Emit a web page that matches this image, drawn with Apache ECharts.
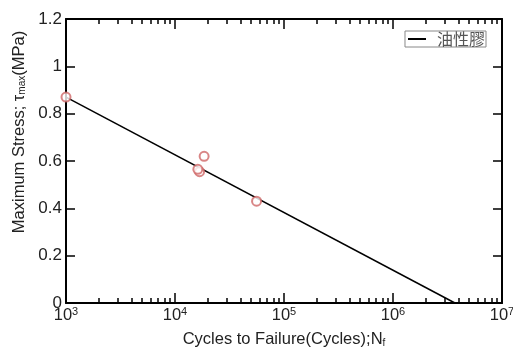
<!DOCTYPE html>
<html>
<head>
<meta charset="utf-8">
<script src="https://cdn.jsdelivr.net/npm/echarts@6/dist/echarts.min.js"></script>
<style>
  html, body { margin: 0; padding: 0; background: #fff; }
  #chart { width: 513px; height: 350px; }
</style>
</head>
<body>
<div id="chart"></div>
<script>
    // measured points: cycles to failure vs max stress
    var cycles = [1000, 18500, 16800, 16200, 56000];
    var stress = [0.87, 0.62, 0.555, 0.565, 0.43];
    // fitted line end points
    var fitCycles = [1000, 3700000];
    var fitStress = [0.87, 0];
    var majorTicks = [1e3, 1e4, 1e5, 1e6, 1e7];
    var minorTicks = [];
    for (var d = 3; d < 7; d++) {
        for (var m = 2; m <= 9; m++) {
            minorTicks.push(m * Math.pow(10, d));
        }
    }
    var legendName = '油性膠';

    var font = 'Liberation Sans, Arial, sans-serif';
    var chart = echarts.init(document.getElementById('chart'));

    function genData(xs, ys) {
        var data = [];
        for (var i = 0; i < xs.length; i++) {
            data.push([xs[i], ys[i]]);
        }
        return data;
    }

    function xAxisCfg(pos, ticks, len, main) {
        return {
            type: 'log',
            logBase: 10,
            min: 1e3,
            max: 1e7,
            position: pos,
            gridIndex: 0,
            axisLine: {show: main, onZero: false, lineStyle: {color: '#000', width: 2}},
            axisTick: {show: true, inside: true, length: len, customValues: ticks,
                lineStyle: {color: '#000', width: 1.5}},
            splitLine: {show: false},
            axisLabel: {
                show: main && pos === 'bottom',
                customValues: majorTicks,
                margin: 3,
                formatter: function (v) {
                    return '{b|10}{s|' + Math.round(Math.log10(v)) + '}';
                },
                rich: {
                    b: {fontSize: 16.5, fontFamily: font, color: '#222'},
                    s: {fontSize: 11, fontFamily: font, color: '#222', verticalAlign: 'top', padding: [0, 0, 7, 0]}
                }
            },
            name: main && pos === 'bottom' ? '{t|Cycles to Failure(Cycles);N}{sub|f}' : '',
            nameLocation: 'middle',
            nameGap: 28,
            nameTextStyle: {
                rich: {
                    t: {fontSize: 16.5, fontFamily: font, color: '#222'},
                    sub: {fontSize: 10, fontFamily: font, color: '#222', verticalAlign: 'bottom', padding: [7, 0, 0, 0]}
                }
            }
        };
    }

    function yAxisCfg(pos, main) {
        return {
            type: 'value',
            min: 0,
            max: 1.2,
            interval: 0.2,
            position: pos,
            axisLine: {show: true, onZero: false, lineStyle: {color: '#000', width: 2}},
            axisTick: {show: true, inside: true, length: 9, lineStyle: {color: '#000', width: 1.5}},
            splitLine: {show: false},
            axisLabel: {
                show: main,
                margin: 4,
                fontSize: 17,
                fontFamily: font,
                color: '#222',
                formatter: function (v) {
                    return String(Math.round(v * 10) / 10);
                }
            },
            name: main ? '{t|Maximum Stress; τ}{sub|max}{t|(MPa)}' : '',
            nameLocation: 'middle',
            nameGap: 37,
            nameRotate: 90,
            nameTextStyle: {
                padding: [0, 0, 0, 58],
                rich: {
                    t: {fontSize: 16.5, fontFamily: font, color: '#222'},
                    sub: {fontSize: 10, fontFamily: font, color: '#222', verticalAlign: 'bottom', padding: [7, 0, 0, 0]}
                }
            }
        };
    }

    var option = {
        animation: false,
        backgroundColor: '#fff',
        grid: {left: 66, right: 11, top: 19, bottom: 47, outerBoundsMode: 'none', containLabel: false},
        legend: {
            right: 27,
            top: 31,
            orient: 'horizontal',
            data: [{name: legendName, icon: 'rect'}],
            itemWidth: 18,
            itemHeight: 2,
            itemGap: 0,
            padding: [0, 1, 0, 3],
            borderColor: '#888',
            borderWidth: 1,
            borderRadius: 0,
            backgroundColor: '#fff',
            textStyle: {fontSize: 16, fontFamily: 'Noto Sans CJK TC', color: '#555', padding: [0, 0, 0, 6]}
        },
        xAxis: [
            xAxisCfg('bottom', majorTicks, 10, true),
            xAxisCfg('bottom', minorTicks, 5, false),
            xAxisCfg('top', majorTicks, 10, true),
            xAxisCfg('top', minorTicks, 5, false)
        ],
        yAxis: [
            yAxisCfg('left', true),
            yAxisCfg('right', false)
        ],
        series: [
            {
                name: legendName,
                type: 'line',
                data: genData(fitCycles, fitStress),
                symbol: 'none',
                lineStyle: {color: '#000', width: 1.5},
                itemStyle: {color: '#000'},
                z: 3
            },
            {
                name: 'data',
                type: 'scatter',
                data: genData(cycles, stress),
                symbol: 'emptyCircle',
                symbolSize: 9,
                itemStyle: {color: '#d06868', borderColor: '#d06868', borderWidth: 1},
                z: 4
            }
        ]
    };
    chart.setOption(option);
</script>
</body>
</html>
